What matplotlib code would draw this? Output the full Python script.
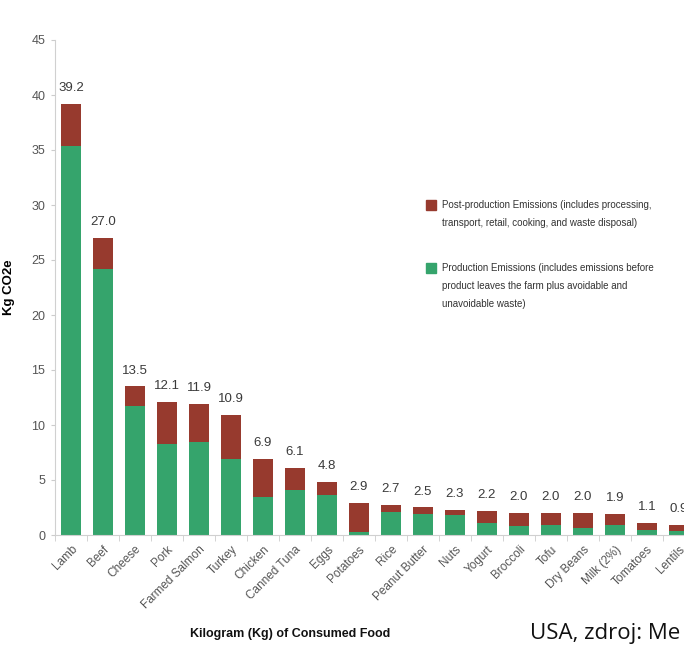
import matplotlib
matplotlib.use("Agg")
import matplotlib.pyplot as plt
import numpy as np
from matplotlib.patches import Rectangle

foods = ["Lamb", "Beef", "Cheese", "Pork", "Farmed Salmon", "Turkey", "Chicken",
         "Canned Tuna", "Eggs", "Potatoes", "Rice", "Peanut Butter", "Nuts", "Yogurt",
         "Broccoli", "Tofu", "Dry Beans", "Milk (2%)", "Tomatoes", "Lentils"]
totals = [39.2, 27.0, 13.5, 12.1, 11.9, 10.9, 6.9, 6.1, 4.8, 2.9, 2.7, 2.5, 2.3, 2.2,
          2.0, 2.0, 2.0, 1.9, 1.1, 0.9]
production = [35.4, 24.2, 11.7, 8.3, 8.5, 6.9, 3.5, 4.1, 3.6, 0.3, 2.1, 1.9, 1.8, 1.1,
              0.8, 0.9, 0.65, 0.9, 0.45, 0.4]
yticks = [0, 5, 10, 15, 20, 25, 30, 35, 40, 45]

green = "#35a46c"
red = "#973a2e"

plt.rcParams['font.family'] = ['Liberation Sans', 'DejaVu Sans']

fig = plt.figure(figsize=(6.84, 6.5), dpi=100)
ax = fig.add_axes([55/684, 1-535/650, 640/684, 495/650])

x = np.arange(len(foods))
prod = np.array(production)
post = np.array(totals) - prod
ax.bar(x, prod, width=0.63, color=green, zorder=2)
ax.bar(x, post, bottom=prod, width=0.63, color=red, zorder=2)

for xi, t in zip(x, totals):
    ax.text(xi, t + 0.9, f"{t:.1f}", ha="center", va="bottom", fontsize=9.5,
            color="#3a3a3a")

ax.set_xlim(-0.5, len(foods) - 0.5)
ax.set_ylim(0, 45)
ax.set_yticks(yticks)
ax.set_yticklabels([str(v) for v in yticks], fontsize=9, color="#555555")
ax.set_xticks(x)
ax.set_xticklabels(foods, rotation=45, ha="right", rotation_mode="anchor",
                   fontsize=8.5, color="#555555")
ax.set_xticks(np.arange(-0.5, len(foods), 1), minor=True)
ax.tick_params(axis="x", which="major", length=0, pad=6)
ax.tick_params(axis="x", which="minor", length=4, color="#cccccc", direction="out")
ax.tick_params(axis="y", length=3, color="#cccccc", pad=4)

for s in ["top", "right"]:
    ax.spines[s].set_visible(False)
ax.spines["left"].set_color("#d0d0d0")
ax.spines["bottom"].set_color("#d0d0d0")

ax.set_ylabel("Kg CO2e", fontsize=9.5, fontweight="bold")
ax.yaxis.set_label_coords(-40/640, 0.5)

fig.text(290/684, 1-634/650, "Kilogram (Kg) of Consumed Food", ha="center",
         va="center", fontsize=9, fontweight="bold", color="#111111")
fig.text(530/684, 1-634/650, "USA, zdroj: Me", ha="left", va="center",
         fontsize=16, family=["Open Sans", "DejaVu Sans"], color="#111111")

# legend
leg_items = [
    (red, 205, ["Post-production Emissions (includes processing,",
                "transport, retail, cooking, and waste disposal)"]),
    (green, 268, ["Production Emissions (includes emissions before",
                  "product leaves the farm plus avoidable and",
                  "unavoidable waste)"]),
]
for col, ypx, lines in leg_items:
    fig.patches.append(Rectangle((426/684, 1-(ypx+5)/650), 10/684, 10/650,
                                 transform=fig.transFigure, color=col))
    for i, ln in enumerate(lines):
        fig.text(442/684, 1-(ypx + i*18)/650, ln, ha="left", va="center",
                 fontsize=7, color="#333333")

fig.savefig("out.png", dpi=100)
